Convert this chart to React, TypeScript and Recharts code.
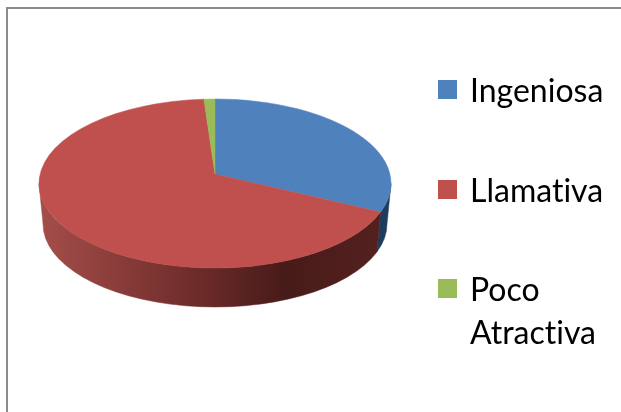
import React from 'react';
import { PieChart, Pie, Cell, Legend } from 'recharts';

const categories = ['Ingeniosa', 'Llamativa', 'Poco Atractiva'];
const values = [30.5, 68.5, 1];
const colors = ['#4f81bd', '#c0504d', '#9bbb59'];

const chartData = categories.map((name, i) => ({ name, value: values[i] }));

// top face ellipse, and a slightly smaller one for the bottom of the wall
const CX = 215;
const CY = 183.5;
const RX = 176;
const RY = 84.5;
const APEX_Y = 174;
const BOTTOM_RX = 172;
const BOTTOM_RY = 83;
const BOTTOM_CY = 224;

const rad = (deg: number) => (deg * Math.PI) / 180;

const PieSlice3D = (props: any) => {
    const { cx, startAngle, endAngle, fill } = props;
    const top = (deg: number) => [cx + RX * Math.cos(rad(deg)), CY - RY * Math.sin(rad(deg))];
    const bottom = (deg: number) => [cx + BOTTOM_RX * Math.cos(rad(deg)), BOTTOM_CY - BOTTOM_RY * Math.sin(rad(deg))];

    const [x1, y1] = top(startAngle);
    const [x2, y2] = top(endAngle);
    const large = startAngle - endAngle > 180 ? 1 : 0;
    const face = `M${cx},${APEX_Y} L${x1},${y1} A${RX},${RY} 0 ${large} 1 ${x2},${y2} Z`;

    // only the front half of the rim is visible
    const wallStart = Math.min(startAngle, 0);
    const wallEnd = Math.max(endAngle, -180);
    let wall = null;
    if (wallStart > wallEnd) {
        const [a, b] = top(wallStart);
        const [c, d] = top(wallEnd);
        const [e, f] = bottom(wallEnd);
        const [g, h] = bottom(wallStart);
        const wallLarge = wallStart - wallEnd > 180 ? 1 : 0;
        const path = `M${a},${b} A${RX},${RY} 0 ${wallLarge} 1 ${c},${d} L${e},${f} A${BOTTOM_RX},${BOTTOM_RY} 0 ${wallLarge} 0 ${g},${h} Z`;
        const wallFill = fill === colors[0] ? '#1f3c5e' : 'url(#redWall)';
        wall = <path d={path} fill={wallFill} stroke={wallFill} strokeWidth={0.5} />;
    }

    return (
        <g>
            {wall}
            <path d={face} fill={fill} stroke={fill} strokeWidth={0.5} />
        </g>
    );
};

const LegendList = ({ payload }: any) => (
    <div style={{ fontFamily: 'Lato, sans-serif', fontSize: 32, lineHeight: '43px', color: '#000', fontVariantLigatures: 'none' }}>
        {(payload || []).map((item: any) => (
            <div key={item.value} style={{ position: 'relative', paddingLeft: 32, marginBottom: 56.5 }}>
                <span style={{ position: 'absolute', left: 0, top: 12, width: 19, height: 19, background: item.color }} />
                {item.value}
            </div>
        ))}
    </div>
);

export default function App() {
    return (
        <div style={{ position: 'absolute', left: 0, top: 0, width: 621, height: 412, background: '#fff', overflow: 'hidden', filter: 'blur(0.5px)' }}>
            <div style={{ position: 'absolute', left: 6, top: 7, right: 0, bottom: 0, borderLeft: '2px solid #8c8c8c', borderTop: '2px solid #8c8c8c' }} />
            <PieChart width={621} height={412} margin={{ top: 0, right: 0, bottom: 0, left: 0 }} style={{ position: 'absolute', left: 0, top: 0 }}>
                <defs>
                    <linearGradient id="redWall" gradientUnits="userSpaceOnUse" x1={39} y1={0} x2={391} y2={0}>
                        <stop offset="0" stopColor="#a44e4b" />
                        <stop offset="0.18" stopColor="#8f403d" />
                        <stop offset="0.46" stopColor="#6b2b29" />
                        <stop offset="0.7" stopColor="#471b19" />
                        <stop offset="1" stopColor="#552120" />
                    </linearGradient>
                </defs>
                <Pie
                    data={chartData}
                    dataKey="value"
                    nameKey="name"
                    cx={CX}
                    cy={CY}
                    outerRadius={RX}
                    startAngle={90}
                    endAngle={-270}
                    stroke="none"
                    shape={PieSlice3D}
                    isAnimationActive={false}
                >
                    {categories.map((name, i) => (
                        <Cell key={name} fill={colors[i]} />
                    ))}
                </Pie>
                <Legend
                    layout="vertical"
                    align="right"
                    verticalAlign="top"
                    content={<LegendList />}
                    wrapperStyle={{ left: 438, top: 68, width: 170, right: 'auto', bottom: 'auto' }}
                />
            </PieChart>
        </div>
    );
}
